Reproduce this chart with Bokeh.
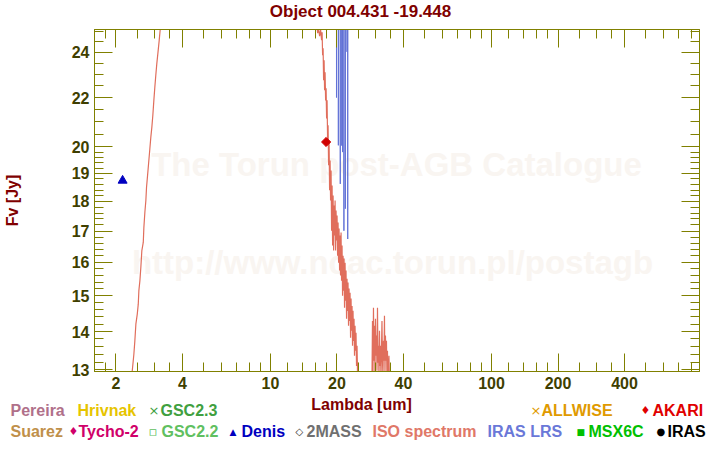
from math import pi
from bokeh.plotting import figure
from bokeh.layouts import column
from bokeh.models import LogAxis, FixedTicker, Label, Range1d, CustomJSTickFormatter
from bokeh.core.properties import value
from bokeh.embed import file_html
from bokeh.resources import INLINE

# ---------------- data ----------------
iso_wave = [2.35, 2.371, 2.411, 2.436, 2.462, 2.498, 2.524, 2.540, 2.567, 2.593, 2.620, 2.659, 2.676,
            2.704, 2.732, 2.751, 2.781, 2.810, 2.848, 2.877, 2.908, 2.938, 2.969, 3.000, 3.030, 3.062,
            3.107, 3.140, 3.172, 3.21,
            16.18, 16.35, 16.52, 16.69, 16.87, 17.04, 17.13, 17.22, 17.31, 17.40, 17.49, 17.58, 17.67,
            17.77, 17.86, 17.95, 18.04, 18.14, 18.23, 18.33, 18.42, 18.52, 18.62, 18.71, 18.81, 18.91,
            19.01, 19.11, 19.21, 19.31, 19.41, 19.51, 19.61, 19.71, 19.81, 19.92, 20.02, 20.13, 20.23,
            20.34, 20.44, 20.55, 20.65, 20.76, 20.87, 20.98, 21.09, 21.20, 21.31, 21.42, 21.53, 21.64,
            21.76, 21.87, 21.98, 22.10, 22.21, 22.33, 22.44, 22.56, 22.68, 22.80, 22.92, 23.04, 23.16,
            23.28, 23.40, 23.52, 23.64, 23.77, 23.89, 24.01, 24.14, 24.27, 24.39, 24.52, 24.65, 24.77,
            24.90, 25.03, 26.78, 28.80, 28.95, 29.10, 29.25, 29.41, 29.56, 29.71, 29.87, 30.02, 30.18,
            30.34, 30.50, 30.66, 30.82, 30.98, 31.14, 31.30, 31.46, 31.63, 31.96, 32.12, 32.29, 32.46,
            32.63, 32.80, 32.97, 33.14, 33.31, 33.49, 33.66, 33.84, 34.01, 34.37, 34.55, 35.82]
iso_flux = [12.75, 12.98, 13.40, 13.75, 14.20, 14.48, 14.76, 15.15, 15.44, 15.85, 16.37, 16.63, 17.12,
            17.63, 18.03, 18.50, 18.93, 19.36, 19.93, 20.38, 20.78, 21.26, 21.88, 22.45, 22.97, 23.49,
            24.11, 24.58, 25.09, 25.6,
            25.55, 24.91, 25.11, 24.77, 25.06, 24.58, 24.96, 23.87, 24.20, 22.75, 23.64, 22.31, 23.10,
            21.88, 22.40, 21.13, 21.88, 20.25, 20.85, 19.30, 20.25, 18.39, 19.48, 18.03, 19.11, 17.01,
            18.56, 16.53, 18.21, 16.37, 17.86, 16.85, 18.03, 16.37, 17.69, 16.69, 17.52, 16.21, 17.28,
            15.99, 17.08, 15.75, 16.85, 15.60, 16.95, 15.44, 16.53, 15.00, 16.21, 15.15, 16.12, 14.66,
            15.99, 14.86, 15.75, 14.35, 15.50, 14.57, 15.39, 14.16, 15.21, 14.29, 15.09, 13.83, 14.92,
            14.02, 14.71, 13.62, 14.57, 13.75, 14.35, 13.36, 14.16, 13.49, 13.97, 13.10, 13.62, 12.93,
            13.18, 12.73, 12.60, 12.78, 14.29, 12.93, 14.66, 13.23, 14.16, 12.85, 14.35, 13.36, 13.89,
            12.98, 14.66, 13.18, 13.62, 12.85, 14.02, 13.10, 13.62, 12.78, 14.29, 13.23, 12.85, 13.75,
            13.23, 14.43, 12.93, 13.89, 13.23, 13.75, 12.85, 13.49, 12.78, 13.36, 12.73, 12.48]

# IRAS LRS: narrow dips coming down from above the top of the plot
lrs_wave = [19.89, 19.90, 19.91, 20.28, 20.29, 20.30, 20.69, 20.70, 20.71, 21.01, 21.02, 21.03,
            21.19, 21.20, 21.21, 21.49, 21.50, 21.51, 21.81, 21.82, 21.83, 22.20, 22.21, 22.22,
            22.36, 22.37, 22.38]
lrs_flux = [30.0, 22.0, 30.0, 30.0, 20.06, 30.0, 30.0, 18.62, 30.0, 30.0, 20.05, 30.0,
            30.0, 19.8, 30.0, 30.0, 17.01, 30.0, 30.0, 17.75, 30.0, 30.0, 24.03, 30.0,
            30.0, 16.74, 30.0]

denis_wave = [2.144]
denis_flux = [18.74]
akari_wave = [17.86]
akari_flux = [20.19]

x_major = [2, 4, 10, 20, 40, 100, 200, 400]
x_minor = [1.6, 1.8, 2.5, 3, 3.5, 5, 6, 7, 8, 9, 12, 14, 16, 18, 25, 30, 35, 50, 60, 70, 80, 90,
           120, 140, 160, 180, 250, 300, 350, 500, 600, 700, 800]
y_major = [13, 14, 15, 16, 17, 18, 19, 20, 22, 24]
y_minor = [13.2, 13.4, 13.6, 13.8, 14.2, 14.4, 14.6, 14.8, 15.2, 15.4, 15.6, 15.8, 16.2, 16.4,
           16.6, 16.8, 17.2, 17.4, 17.6, 17.8, 18.2, 18.4, 18.6, 18.8, 19.2, 19.4, 19.6, 19.8,
           20.5, 21, 21.5, 22.5, 23, 23.5, 24.5, 25]

title_text = "Object 004.431 -19.448"
xlabel_text = "Lambda [um]"
ylabel_text = "Fv [Jy]"

legend_row1 = ["Pereira", "Hrivnak", "GSC2.3", "ALLWISE", "AKARI"]
legend_row1_colors = ["#b0708a", "#e6c400", "#40a040", "#e09a00", "#e00000"]
legend_row2 = ["Suarez", "Tycho-2", "GSC2.2", "Denis", "2MASS", "ISO spectrum", "IRAS LRS", "MSX6C", "IRAS"]
legend_row2_colors = ["#c0904a", "#d0006a", "#60c060", "#0000c0", "#707070", "#e07868", "#6a78d8",
                      "#00c000", "#000000"]
legend_symbols = ["\u00d7", "\u00d7", "\u2666", "\u2666", "\u25ab", "\u25b2", "\u25c7", "\u25a0", "\u25cf"]
legend_symbol_colors = ["#40a040", "#e09a00", "#e00000", "#d0006a", "#60c060", "#0000c0", "#303030",
                        "#00c000", "#000000"]

# ---------------- styling / layout constants ----------------
OLIVE = "#808000"
TICKTXT = "#3f3f00"
MAROON = "#800000"
FONT = "Liberation Sans"
SYM = "DejaVu Sans"
W = 720
TOP_H = 22          # title strip
MAIN_H = 373        # main plot (frame from y=29 to y=371 on the page)
BOT_H = 450 - TOP_H - MAIN_H


def blank(h):
    f = figure(width=W, height=h, x_range=Range1d(0, W), y_range=Range1d(0, h),
               output_backend="svg", toolbar_location=None,
               x_axis_location=None, y_axis_location=None, frame_align=False,
               min_border=0, min_border_left=0, min_border_right=0, min_border_top=0, min_border_bottom=0)
    f.grid.visible = False
    f.outline_line_color = None
    f.background_fill_color = "white"
    f.border_fill_color = "white"
    return f


# ---- title strip ----
top = blank(TOP_H)
top.text(x=[360], y=[TOP_H - 11], text=[title_text], text_color=MAROON, text_font=value(FONT),
         text_font_style="bold", text_font_size=value("17px"), text_align="center", text_baseline="middle")

# ---- main plot ----
p = figure(width=W, height=MAIN_H, x_axis_type="log", y_axis_type="log",
           x_range=Range1d(1.6, 873), y_range=Range1d(12.96, 25.09),
           output_backend="svg", toolbar_location=None, frame_align=False,
           min_border_left=93, min_border_right=21, min_border_top=29 - TOP_H,
           min_border_bottom=TOP_H + MAIN_H - 371)
p.grid.visible = False
p.outline_line_color = OLIVE
p.background_fill_color = "white"
p.border_fill_color = "white"

p.add_layout(LogAxis(), "above")
p.add_layout(LogAxis(), "right")


def style(ax, major, minor, labels):
    ax.ticker = FixedTicker(ticks=major, minor_ticks=minor)
    ax.axis_line_color = OLIVE
    ax.major_tick_line_color = OLIVE
    ax.minor_tick_line_color = OLIVE
    ax.major_tick_in = 18
    ax.major_tick_out = 0
    ax.minor_tick_in = 9
    ax.minor_tick_out = 0
    ax.major_label_text_font = FONT
    ax.major_label_text_font_style = "bold"
    ax.major_label_text_color = TICKTXT
    if labels:
        ax.major_label_standoff = 5
        ax.major_label_text_font_size = "16px"
        ax.formatter = CustomJSTickFormatter(code="return tick.toString();")
    else:
        ax.major_label_standoff = 0
        ax.major_label_text_font_size = "0px"
        ax.formatter = CustomJSTickFormatter(code="return '';")


style(p.below[0], x_major, x_minor, True)
style(p.above[0], x_major, x_minor, False)
style(p.left[0], y_major, y_minor, True)
style(p.right[0], y_major, y_minor, False)

yax = p.left[0]
yax.axis_label = ylabel_text
yax.axis_label_text_color = MAROON
yax.axis_label_text_font = FONT
yax.axis_label_text_font_style = "bold"
yax.axis_label_text_font_size = "16px"
yax.axis_label_standoff = 48

# watermark (screen units relative to the frame)
FL, FB = 93, 371
for txt, cx, cy in [("The Torun post-AGB Catalogue", 395, 164),
                    ("http://www.ncac.torun.pl/postagb", 391, 262)]:
    p.add_layout(Label(x=cx - FL, y=FB - cy, x_units="screen", y_units="screen", text=txt,
                       text_color="#f9f5f1", text_font=FONT, text_font_style="bold",
                       text_font_size="33px", text_align="center", text_baseline="middle",
                       level="underlay"))

p.line(iso_wave, iso_flux, line_color="#e06e5c", line_width=1.2)
p.line(lrs_wave, lrs_flux, line_color="#6272d6", line_width=1.0)
p.scatter(denis_wave, denis_flux, marker="triangle", size=9, color="#0000c0")
p.scatter(akari_wave, akari_flux, marker="square", angle=pi / 4, size=6.5, color="#d00000")

# ---- bottom strip: x label + legend ----
bot = blank(BOT_H)
Y0 = TOP_H + MAIN_H  # page y of the strip's top edge


def py(page_y):
    return BOT_H - (page_y - Y0)


bot.text(x=[361], y=[py(404)], text=[xlabel_text], text_color=MAROON, text_font=value(FONT),
         text_font_style="bold", text_font_size=value("16px"), text_align="center", text_baseline="middle")

R1, R2 = 410, 431
row1_x = [10, 77, 160, 541, 652]
row2_x = [10, 78, 161, 241, 306, 372, 487, 588, 667]
bot.text(x=row1_x, y=[py(R1)] * len(row1_x), text=legend_row1, text_color=legend_row1_colors,
         text_font=value(FONT), text_font_style="bold", text_font_size=value("16px"),
         text_align="left", text_baseline="middle")
bot.text(x=row2_x, y=[py(R2)] * len(row2_x), text=legend_row2, text_color=legend_row2_colors,
         text_font=value(FONT), text_font_style="bold", text_font_size=value("16px"),
         text_align="left", text_baseline="middle")

sym_x = [148, 530, 640, 68, 148, 229, 295, 576, 656]
sym_y = [R1, R1, R1, R2, R2, R2, R2, R2, R2]
sym_size = ["13px", "13px", "11px", "11px", "13px", "9px", "10px", "9px", "10px"]
bot.text(x=sym_x, y=[py(v) for v in sym_y], text=legend_symbols, text_color=legend_symbol_colors,
         text_font=value(SYM), text_font_size=sym_size, text_align="left", text_baseline="middle")

layout = column(top, p, bot, spacing=0)
open("out.html", "w").write(file_html(layout, INLINE))
